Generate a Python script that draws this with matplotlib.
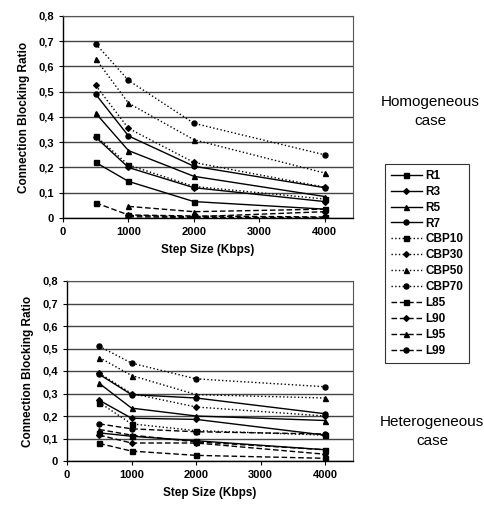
import numpy as np
import matplotlib
matplotlib.use("Agg")
from matplotlib import pyplot as plt
from matplotlib.ticker import FuncFormatter

plt.rcParams['font.family'] = ['Liberation Sans', 'DejaVu Sans']

# step sizes (Kbps)
steps = [500, 1000, 2000, 4000]

series_names = ["R1", "R3", "R5", "R7",
                "CBP10", "CBP30", "CBP50", "CBP70",
                "L85", "L90", "L95", "L99"]

# homogeneous case
homo = {
    "R1":    [0.22, 0.145, 0.065, 0.035],
    "R3":    [0.32, 0.20, 0.12, 0.065],
    "R5":    [0.415, 0.267, 0.165, 0.085],
    "R7":    [0.49, 0.325, 0.205, 0.12],
    "CBP10": [0.325, 0.21, 0.125, 0.075],
    "CBP30": [0.525, 0.355, 0.22, 0.122],
    "CBP50": [0.63, 0.455, 0.31, 0.178],
    "CBP70": [0.69, 0.545, 0.375, 0.25],
    "L85":   [0.06, 0.012, 0.008, 0.004],
    "L90":   [np.nan, 0.01, 0.005, 0.025],
    "L95":   [np.nan, 0.046, 0.025, 0.035],
    "L99":   [np.nan, 0.005, 0.002, 0.002],
}

# heterogeneous case
hetero = {
    "R1":    [0.125, 0.11, 0.09, 0.05],
    "R3":    [0.27, 0.19, 0.185, 0.115],
    "R5":    [0.345, 0.235, 0.2, 0.18],
    "R7":    [0.385, 0.295, 0.28, 0.21],
    "CBP10": [0.26, 0.165, 0.135, 0.115],
    "CBP30": [0.39, 0.30, 0.24, 0.2],
    "CBP50": [0.46, 0.38, 0.295, 0.28],
    "CBP70": [0.51, 0.435, 0.365, 0.33],
    "L85":   [0.078, 0.044, 0.025, 0.012],
    "L90":   [0.115, 0.08, 0.08, 0.03],
    "L95":   [0.14, 0.115, 0.085, 0.05],
    "L99":   [0.165, 0.143, 0.13, 0.12],
}

mk = {"R1": "s", "R3": "D", "R5": "^", "R7": "o",
      "CBP10": "s", "CBP30": "D", "CBP50": "^", "CBP70": "o",
      "L85": "s", "L90": "D", "L95": "^", "L99": "o"}

def style(name):
    if name.startswith("CBP"):
        return ":"
    if name.startswith("L"):
        return (0, (4, 2))
    return "-"

fig = plt.figure(figsize=(4.84, 5.05), dpi=100)
ax1 = fig.add_axes([63/484, 1-218/505, 290/484, 202/505])
ax2 = fig.add_axes([67/484, 1-461/505, 286/484, 180/505])

def fmt(v, pos):
    if abs(v) < 1e-9:
        return "0"
    return ("%.1f" % v).replace(".", ",")

for ax, data in ((ax1, homo), (ax2, hetero)):
    for name in series_names:
        m = mk[name]
        ms = 3.6 if m != "D" else 2.9
        ax.plot(steps, data[name], linestyle=style(name), marker=m, color="black",
                lw=1.0, ms=ms, label=name)
    ax.set_xlim(0, 4430)
    ax.set_ylim(0, 0.8)
    ax.set_xticks([0, 1000, 2000, 3000, 4000])
    ax.set_yticks(np.arange(0, 0.81, 0.1))
    ax.yaxis.set_major_formatter(FuncFormatter(fmt))
    ax.yaxis.grid(True, color="#444444", lw=1.0)
    ax.set_axisbelow(True)
    for s in ("top", "right"):
        ax.spines[s].set_color("#555555")
        ax.spines[s].set_linewidth(0.8)
    ax.spines["left"].set_linewidth(1.0)
    ax.spines["bottom"].set_linewidth(1.0)
    ax.tick_params(axis="both", labelsize=8, length=3, width=0.8)
    for lab in ax.get_xticklabels() + ax.get_yticklabels():
        lab.set_fontweight("bold")
    ax.set_xlabel("Step Size (Kbps)", fontsize=8.5, fontweight="bold", labelpad=5)
    ax.set_ylabel("Connection Blocking Ratio", fontsize=8.5, fontweight="bold", labelpad=6)

handles, labels = ax1.get_legend_handles_labels()
leg = fig.legend(handles, labels, loc="upper left",
                 bbox_to_anchor=(385/484, 1-164/505),
                 frameon=True, fancybox=False, edgecolor="black",
                 prop={"size": 8.5, "weight": "bold"},
                 handlelength=2.6, handletextpad=0.3, labelspacing=0.33,
                 borderpad=0.5, borderaxespad=0)
leg.get_frame().set_linewidth(0.8)

fig.text(430/484, 1-102/505, "Homogeneous", ha="center", va="center", fontsize=11)
fig.text(430/484, 1-121/505, "case", ha="center", va="center", fontsize=11)
fig.text(432/484, 1-422/505, "Heterogeneous", ha="center", va="center", fontsize=11)
fig.text(432/484, 1-441/505, "case", ha="center", va="center", fontsize=11)

fig.savefig("out.png", dpi=100)
